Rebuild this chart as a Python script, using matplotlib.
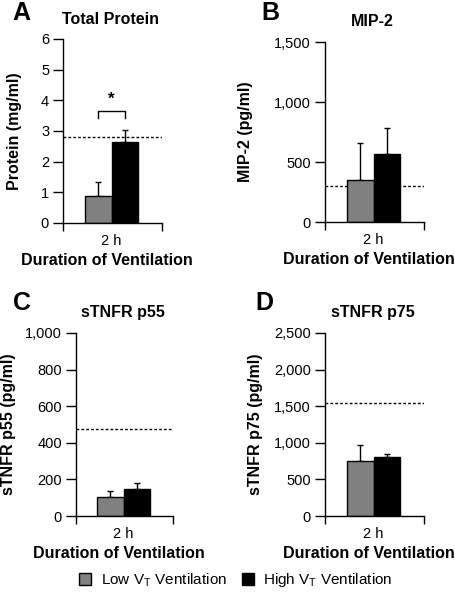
import matplotlib
matplotlib.use("Agg")
import matplotlib.pyplot as plt
from matplotlib.ticker import FuncFormatter
from matplotlib.patches import Patch

plt.rcParams['font.family'] = ['Liberation Sans', 'DejaVu Sans']

# data
letters = ["A", "B", "C", "D"]
titles = ["Total Protein", "MIP-2", "sTNFR p55", "sTNFR p75"]
ylabels = ["Protein (mg/ml)", "MIP-2 (pg/ml)", "sTNFR p55 (pg/ml)", "sTNFR p75 (pg/ml)"]
low_mean = [0.87, 350, 105, 753]
low_err = [0.46, 310, 33, 214]
high_mean = [2.63, 565, 146, 808]
high_err = [0.39, 215, 32, 35]
ref_level = [2.8, 300, 473, 1540]
y_max = [6, 1500, 1000, 2500]
y_step = [1, 500, 200, 500]
time_label = "2 h"

W, H = 456, 596
fig = plt.figure(figsize=(W / 100, H / 100), dpi=100)

def fx(x):
    return x / W

def fy(y):
    return 1 - y / H

# axes boxes in pixels: left, right, top, bottom
boxes = [(63, 162, 39, 223), (325, 424, 42, 222),
         (76, 173, 333, 516), (325, 424, 333, 516)]
ylabel_x = [15, 246, 9, 256]
letter_pos = [(21, 13), (270, 13), (22, 303), (264, 303)]

gray = "#808080"
bw = 0.27
centre = 0.49

for i in range(4):
    l, r, t, b = boxes[i]
    ax = fig.add_axes([fx(l), fy(b), fx(r) - fx(l), fy(t) - fy(b)])

    ax.axhline(ref_level[i], color="black", lw=1, linestyle=(0, (2, 1.5)), zorder=1)

    ax.bar(centre - bw / 2, low_mean[i], bw, color=gray, edgecolor="black", lw=1, zorder=2)
    ax.bar(centre + bw / 2, high_mean[i], bw, color="black", edgecolor="black", lw=1, zorder=2)
    ax.errorbar([centre - bw / 2], [low_mean[i]], yerr=[[0], [low_err[i]]],
                fmt="none", ecolor="black", elinewidth=1, capsize=2.5, capthick=1, zorder=1.5)
    ax.errorbar([centre + bw / 2], [high_mean[i]], yerr=[[0], [high_err[i]]],
                fmt="none", ecolor="black", elinewidth=1, capsize=2.5, capthick=1, zorder=1.5)

    ax.set_xlim(0, 1)
    ax.set_ylim(0, y_max[i])
    ax.set_yticks([k * y_step[i] for k in range(int(y_max[i] / y_step[i]) + 1)])
    if y_max[i] >= 1000:
        ax.yaxis.set_major_formatter(FuncFormatter(lambda v, p: f"{int(v):,}"))
    ax.tick_params(axis="y", direction="out", length=7, width=1, labelsize=10.5, pad=3)

    ax.set_xticks([centre])
    ax.set_xticklabels([time_label])
    ax.tick_params(axis="x", which="major", length=0, labelsize=10.5, pad=8)
    ax.set_xticks([0, 1], minor=True)
    ax.tick_params(axis="x", which="minor", direction="out", length=5.5, width=1)

    for s in ["top", "right"]:
        ax.spines[s].set_visible(False)
    ax.spines["left"].set_linewidth(1)
    ax.spines["bottom"].set_linewidth(1)
    ax.set_facecolor("none")

    # titles and labels
    fig.text(fx((l + r) / 2 - 2), fy(t - 20), titles[i], ha="center", va="center",
             fontsize=11.5, fontweight="bold")
    fig.text(fx(letter_pos[i][0]), fy(letter_pos[i][1]), letters[i], ha="center",
             va="center", fontsize=18, fontweight="bold")
    fig.text(fx(ylabel_x[i]), fy((t + b) / 2), ylabels[i], rotation=90, ha="center",
             va="center", fontsize=11.5, fontweight="bold")
    fig.text(fx((l + r) / 2 - 6), fy(b + 38), "Duration of Ventilation", ha="center",
             va="center", fontsize=11.5, fontweight="bold")

    if i == 0:
        x1, x2 = centre - bw / 2, centre + bw / 2
        ax.plot([x1, x1, x2, x2], [3.42, 3.65, 3.65, 3.42], color="black", lw=1)
        ax.text(centre, 3.78, "*", ha="center", va="bottom", fontsize=12, fontweight="bold")

handles = [Patch(facecolor=gray, edgecolor="black", lw=1),
           Patch(facecolor="black", edgecolor="black", lw=1)]
fig.legend(handles, ["Low V$_\\mathregular{T}$ Ventilation", "High V$_\\mathregular{T}$ Ventilation"],
           loc="center", bbox_to_anchor=(fx(236), fy(580)), ncol=2, frameon=False,
           fontsize=11, handlelength=0.8, handleheight=0.8, handletextpad=0.6,
           columnspacing=1.0)

fig.savefig("out.png", dpi=100)
